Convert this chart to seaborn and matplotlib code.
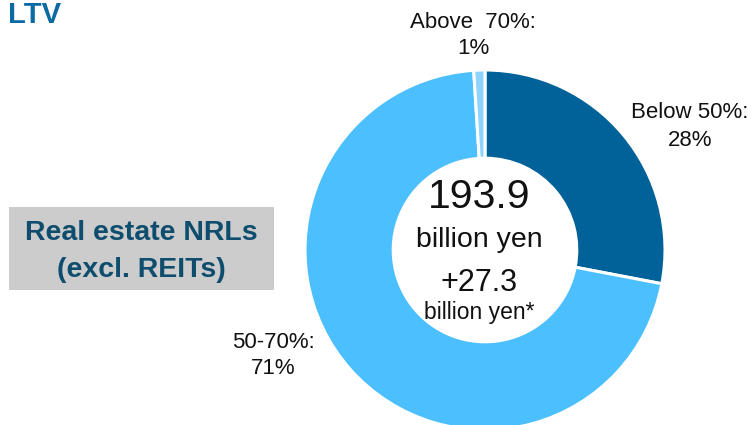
import matplotlib
matplotlib.use("Agg")
import matplotlib.pyplot as plt
from matplotlib.patches import Rectangle
import seaborn as sns

# LTV breakdown of real estate non-recourse loans
categories = ["Below 50%", "50-70%", "Above 70%"]
shares = [28, 71, 1]
total_balance = 193.9
balance_change = 27.3
box_title = ["Real estate NRLs", "(excl. REITs)"]

sns.set_theme(style="white")
plt.rcParams["font.family"] = ["Liberation Sans", "DejaVu Sans"]
palette = sns.color_palette(["#006298", "#4cbfff", "#8ed4ff"])

W, H = 756, 425
fig = plt.figure(figsize=(W / 100, H / 100), dpi=100)


def fx(px):
    return px / W


def fy(py):
    return 1 - py / H


# donut centred at (485, 250) px with radius 180 px
cx, cy, r = 485, 250, 180
ax = fig.add_axes([fx(cx - r), fy(cy + r), 2 * r / W, 2 * r / H])
ax.pie(
    shares,
    colors=palette,
    startangle=90,
    counterclock=False,
    radius=1.0,
    wedgeprops=dict(width=0.49, edgecolor="white", linewidth=2.2),
)
ax.set_xlim(-1, 1)
ax.set_ylim(-1, 1)
ax.set_aspect("equal")
ax.axis("off")

# slice labels
label_pos = {
    "Below 50%": (690, 113, 141),
    "50-70%": (273, 343, 369),
    "Above 70%": (473, 22, 48),
}
for cat, val in zip(categories, shares):
    x, y1, y2 = label_pos[cat]
    name = cat + ":" if cat != "Above 70%" else "Above  70%:"
    fig.text(fx(x), fy(y1), name, ha="center", va="center", fontsize=16, color="#111111")
    fig.text(fx(x), fy(y2), f"{val}%", ha="center", va="center", fontsize=16, color="#111111")

# centre figures
fig.text(fx(479), fy(197), f"{total_balance:.1f}", ha="center", va="center", fontsize=29.5, color="#111111")
fig.text(fx(479), fy(240), "billion yen", ha="center", va="center", fontsize=20.5, color="#111111")
fig.text(fx(479), fy(283), f"+{balance_change:.1f}", ha="center", va="center", fontsize=22, color="#111111")
fig.text(fx(479), fy(313), "billion yen*", ha="center", va="center", fontsize=16.5, color="#111111")

# heading
fig.text(fx(8), fy(15), "LTV", ha="left", va="center", fontsize=21, fontweight="bold", color="#0a6aa3")

# grey caption box
fig.patches.append(
    Rectangle((fx(9), fy(290)), fx(274) - fx(9), fy(207) - fy(290),
              transform=fig.transFigure, facecolor="#cccccc", edgecolor="none", zorder=0)
)
fig.text(fx(141), fy(233), box_title[0], ha="center", va="center", fontsize=20.5,
         fontweight="bold", color="#0e4d6e")
fig.text(fx(141), fy(270), box_title[1], ha="center", va="center", fontsize=20.5,
         fontweight="bold", color="#0e4d6e")

fig.savefig("out.png", dpi=100)
